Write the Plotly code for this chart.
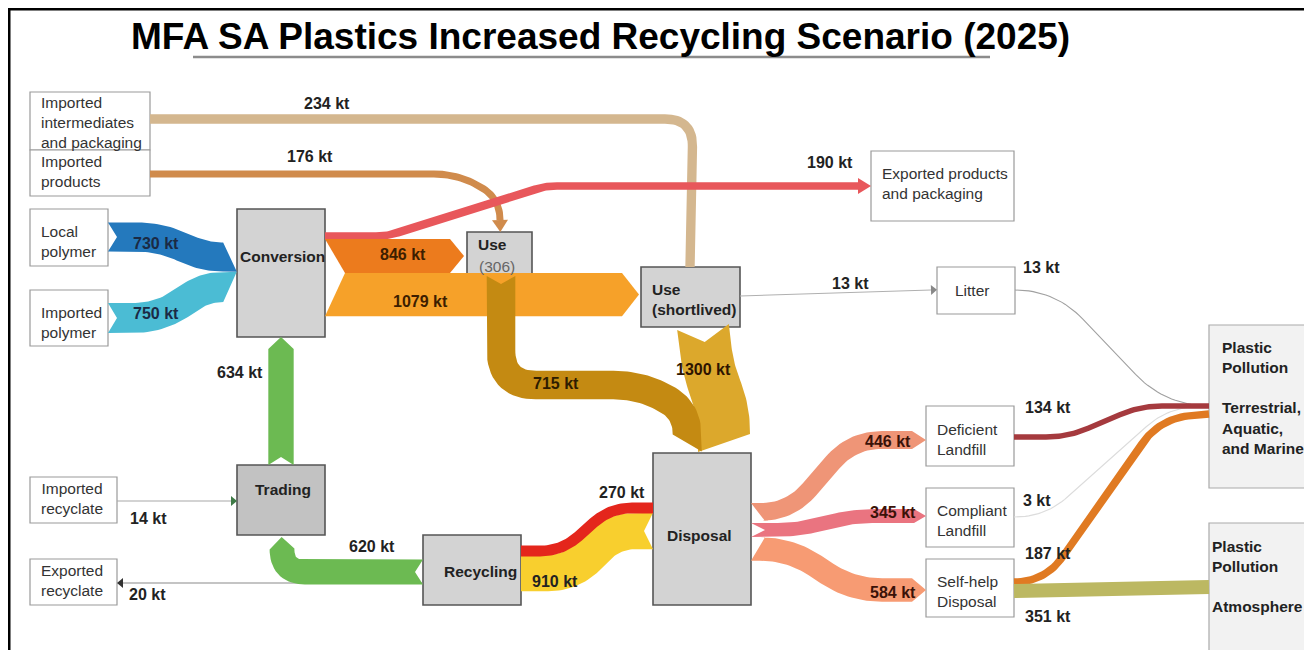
import numpy as np
import plotly.graph_objects as go

# ---------------- data ----------------
title_text = "MFA SA Plastics Increased Recycling Scenario (2025)"
unit = "kt"

node_ids = ["imp_int", "imp_prod", "local_poly", "imp_poly", "conversion", "use306", "use_sl",
            "exp_prod", "litter", "trading", "imp_recy", "exp_recy", "recycling", "disposal",
            "deficient", "compliant", "selfhelp", "pp_terr", "pp_atm"]
node_labels = ["Imported<br>intermediates<br>and packaging", "Imported<br>products", "Local<br>polymer",
               "Imported<br>polymer", "Conversion", "Use", "Use<br>(shortlived)",
               "Exported products<br>and packaging", "Litter", "Trading", "Imported<br>recyclate",
               "Exported<br>recyclate", "Recycling", "Disposal", "Deficient<br>Landfill",
               "Compliant<br>Landfill", "Self-help<br>Disposal",
               "Plastic<br>Pollution<br><br>Terrestrial,<br>Aquatic,<br>and Marine",
               "Plastic<br>Pollution<br><br>Atmosphere"]
use_sub_label = "(306)"

flow_source = ["imp_int", "imp_prod", "conversion", "local_poly", "imp_poly", "conversion", "conversion",
               "use306", "use_sl", "trading", "imp_recy", "recycling", "trading", "recycling", "disposal",
               "disposal", "disposal", "disposal", "use_sl", "litter", "deficient", "compliant",
               "selfhelp", "selfhelp"]
flow_target = ["use_sl", "use306", "exp_prod", "conversion", "conversion", "use306", "use_sl",
               "disposal", "disposal", "conversion", "trading", "trading", "exp_recy", "disposal",
               "recycling", "deficient", "compliant", "selfhelp", "litter", "pp_terr", "pp_terr",
               "pp_terr", "pp_terr", "pp_atm"]
flow_kt = [234, 176, 190, 730, 750, 846, 1079, 715, 1300, 634, 14, 620, 20, 270, 910,
           446, 345, 584, 13, 13, 134, 3, 187, 351]

# ---------------- layout (positions / styles) ----------------
W_SCALE = 0.04       # px of ribbon width per kt
THIN_LIMIT = 50      # flows below this drawn as hairlines
FONT = "Liberation Sans, Arial, sans-serif"
PAGE_OFFSET = 8      # the html body margin

node_box = {
    "imp_int": (30, 92, 150, 150), "imp_prod": (30, 150, 150, 196),
    "local_poly": (30, 209, 108, 266), "imp_poly": (30, 290, 108, 346),
    "conversion": (237, 209, 325, 337), "use306": (467, 232, 532, 276),
    "use_sl": (641, 267, 740, 327), "exp_prod": (871, 151, 1014, 221),
    "litter": (937, 267, 1015, 314), "trading": (237, 465, 325, 535),
    "imp_recy": (30, 477, 117, 523), "exp_recy": (30, 559, 117, 605),
    "recycling": (423, 535, 521, 605), "disposal": (653, 453, 751, 605),
    "deficient": (926, 406, 1014, 466), "compliant": (926, 488, 1014, 547),
    "selfhelp": (926, 559, 1014, 617), "pp_terr": (1209, 325, 1325, 488),
    "pp_atm": (1209, 523, 1325, 665),
}
node_kind = {k: "plain" for k in node_ids}
for k in ["conversion", "use306", "use_sl", "recycling", "disposal"]:
    node_kind[k] = "process"
node_kind["trading"] = "trading"
node_kind["pp_terr"] = "sink"
node_kind["pp_atm"] = "sink"
kind_style = {
    "plain": dict(fill="#ffffff", line="#9a9a9a", lw=1.2),
    "process": dict(fill="#d3d3d3", line="#555555", lw=1.6),
    "trading": dict(fill="#c2c2c2", line="#555555", lw=1.6),
    "sink": dict(fill="#f2f2f2", line="#aaaaaa", lw=1.2),
}
# text position: x, y, xanchor, yanchor, bold
node_text = {
    "imp_int": (39, 92, "left", "top", False), "imp_prod": (39, 151, "left", "top", False),
    "local_poly": (39, 221, "left", "top", False), "imp_poly": (39, 302, "left", "top", False),
    "conversion": (282, 256, "center", "middle", True), "use306": (476, 244, "left", "middle", True),
    "use_sl": (650, 279, "left", "top", True), "exp_prod": (880, 163, "left", "top", False),
    "litter": (972, 290, "center", "middle", False), "trading": (283, 489, "center", "middle", True),
    "imp_recy": (72, 478, "center", "top", False), "exp_recy": (72, 560, "center", "top", False),
    "recycling": (480, 571, "center", "middle", True), "disposal": (699, 535, "center", "middle", True),
    "deficient": (935, 419, "left", "top", False), "compliant": (935, 500, "left", "top", False),
    "selfhelp": (935, 571, "left", "top", False), "pp_terr": (1220, 337, "left", "top", True),
    "pp_atm": (1210, 536, "left", "top", True),
}

# geometry of each flow (same order as the data lists)
flow_geom = [
    dict(route=[(150, 119), (693, 119), (690, 267)], r=28, color="#d4b78f", lab=(327, 103)),
    dict(route=[(150, 174), (458, 174), (500, 198), (500, 220)], r=26, color="#d08b4c",
         tri=(12, 8), lab=(310, 156)),
    dict(route=[(325, 236), (388, 236), (545, 186), (858, 186)], r=12, color="#e8575b",
         tri=(13, 8), lab=(830, 162)),
    dict(route=[(108, 237), (160, 237), (205, 257), (223, 257)], r=30, color="#2479bd",
         notch=9, head=14, ha=1, lab=(156, 243), lc="#1b2a44"),
    dict(route=[(108, 318), (160, 318), (205, 287), (223, 287)], r=30, color="#4bbcd4",
         notch=9, head=14, ha=-1, lab=(156, 313), lc="#1b2a44"),
    dict(route=[(325, 256), (450, 256)], r=10, color="#ec7b1d", notch=20, na=1, head=14,
         lab=(403, 254), lc="#3d1e00"),
    dict(route=[(325, 294.6), (622, 294.6)], r=10, color="#f6a129", notch=20, na=-1, head=17,
         lab=(420, 301), lc="#3d1e00"),
    dict(route=[(501, 276), (501, 385), (640, 385), (687, 410), (687, 434)], r=35, color="#c48a12",
         notch=8, head=18, ha=-1, lab=(556, 383), lc="#2e1c00"),
    dict(route=[(703, 327), (708, 370), (724, 410), (724, 434)], r=30, color="#dca82c",
         notch=15, head=18, ha=1, lab=(703, 369), lc="#2e1400"),
    dict(route=[(281, 465), (281, 349)], r=10, color="#6cba52", notch=8, head=12, lab=(240, 372)),
    dict(route=[(117, 501), (231, 501)], r=10, color="#a8a8a8", tri=(6, 5), tric="#3e7a46",
         lab=(148, 518)),
    dict(route=[(423, 572), (282, 572), (282, 549)], r=30, color="#6cba52", notch=8, head=12,
         lab=(372, 546)),
    dict(route=[(423, 583), (123, 583)], r=10, color="#8a8a8a", tri=(6, 5), tric="#333333",
         lab=(147, 594)),
    dict(route=[(521, 551), (562, 551), (610, 508), (653, 508)], r=22, color="#e4261c",
         lab=(622, 492)),
    dict(route=[(653, 531), (612, 531), (572, 573), (521, 573)], r=24, color="#f8cf2e",
         notch=9, lab=(555, 581)),
    dict(route=[(751, 512), (790, 512), (852, 440), (912, 440)], r=30, color="#ef9577",
         notch=14, na=1, head=14, lab=(888, 441), lc="#3a1208"),
    dict(route=[(751, 530), (800, 530), (850, 516), (914, 516)], r=25, color="#ea7480",
         notch=14, head=12, lab=(893, 512), lc="#3a1208"),
    dict(route=[(751, 549), (790, 549), (852, 590), (912, 590)], r=30, color="#f79b73",
         notch=14, na=-1, head=14, lab=(893, 592), lc="#3a1208"),
    dict(route=[(740, 296), (931, 290)], r=10, color="#b0b0b0", tri=(6, 5), tric="#888888",
         lab=(850, 283)),
    dict(route=[(1015, 290), (1055, 290), (1160, 400), (1195, 405)], r=40, color="#a0a0a0",
         lab=(1041, 267)),
    dict(route=[(1014, 437), (1068, 437), (1140, 406), (1209, 406)], r=22, color="#a53a3e",
         lab=(1048, 407)),
    dict(route=[(1014, 517), (1045, 517), (1165, 410), (1190, 407)], r=30, color="#dcdcdc",
         lab=(1037, 500)),
    dict(route=[(1014, 582), (1045, 582), (1160, 418), (1209, 414)], r=32, color="#e07a22",
         lab=(1048, 553)),
    dict(route=[(1014, 591), (1209, 587)], r=10, color="#bcb862", lab=(1048, 616)),
]
# draw order (indices into the flow lists)
draw_order = [0, 1, 2, 3, 4, 6, 5, 8, 7, 12, 10, 9, 11, 14, 13, 15, 16, 17, 18, 19, 21, 20, 22, 23]


# ---------------- geometry helpers ----------------
def rounded(pts, r, n=18):
    P = [np.asarray(p, float) for p in pts]
    out = [P[0]]
    last = len(P) - 1
    for i in range(1, last):
        p0, p1, p2 = P[i - 1], P[i], P[i + 1]
        d1 = p1 - p0
        l1 = np.hypot(*d1)
        d2 = p2 - p1
        l2 = np.hypot(*d2)
        lim1 = l1 if i == 1 else l1 / 2
        lim2 = l2 if i + 1 == last else l2 / 2
        rr = min(r, lim1, lim2)
        a = p1 - d1 / l1 * rr
        b = p1 + d2 / l2 * rr
        for t in np.linspace(0, 1, n):
            out.append((1 - t) ** 2 * a + 2 * (1 - t) * t * p1 + t ** 2 * b)
    out.append(P[-1])
    res = [out[0]]
    for p in out[1:]:
        if np.hypot(*(p - res[-1])) > 1e-6:
            res.append(p)
    return np.array(res)


def tangents(P):
    d = np.diff(P, axis=0)
    d = d / np.hypot(d[:, 0], d[:, 1])[:, None]
    T = np.zeros_like(P)
    T[0] = d[0]
    T[-1] = d[-1]
    if len(P) > 2:
        m = d[:-1] + d[1:]
        T[1:-1] = m / np.hypot(m[:, 0], m[:, 1])[:, None]
    return T


def ribbon(P, w, head=0, ha=0, notch=0, na=0):
    T = tangents(P)
    N = np.stack([-T[:, 1], T[:, 0]], axis=1)
    L = P + N * w / 2
    R = P - N * w / 2
    poly = []
    if notch > 0:
        v = P[0] + T[0] * notch + N[0] * na * w / 2
        if na > -1:
            poly.append(R[0])
        poly.append(v)
        if na < 1:
            poly.append(L[0])
    else:
        poly += [R[0], L[0]]
    poly += list(L[1:])
    if head > 0:
        poly.append(P[-1] + T[-1] * head + N[-1] * ha * w / 2)
    poly += list(R[::-1][:-1])
    poly.append(poly[0])
    a = np.array(poly)
    return a[:, 0], a[:, 1]


def triangle(P, length, half):
    T = tangents(P)[-1]
    N = np.array([-T[1], T[0]])
    e = P[-1]
    tip = e + T * length
    pts = np.array([e + N * half, tip, e - N * half, e + N * half])
    return pts[:, 0], pts[:, 1]


# ---------------- figure ----------------
fig = go.Figure()
shapes = []
annotations = []

# frame and title underline
shapes.append(dict(type="line", x0=8, y0=9, x1=1330, y1=9, line=dict(color="#000", width=3), layer="above"))
shapes.append(dict(type="line", x0=9, y0=9, x1=9, y1=670, line=dict(color="#000", width=3), layer="above"))
shapes.append(dict(type="line", x0=193, y0=57, x1=990, y1=57, line=dict(color="#8c8c8c", width=2.5)))

# boxes
for nid in node_ids:
    x0, y0, x1, y1 = node_box[nid]
    st = kind_style[node_kind[nid]]
    shapes.append(dict(type="rect", x0=x0, y0=y0, x1=x1, y1=y1, fillcolor=st["fill"],
                       line=dict(color=st["line"], width=st["lw"]), layer="below"))

# flows
for i in draw_order:
    g = flow_geom[i]
    v = flow_kt[i]
    P = rounded(g["route"], g.get("r", 20))
    if v < THIN_LIMIT:
        fig.add_trace(go.Scatter(x=P[:, 0], y=P[:, 1], mode="lines",
                                 line=dict(color=g["color"], width=1.1),
                                 hoverinfo="skip", showlegend=False))
    else:
        w = v * W_SCALE
        xs, ys = ribbon(P, w, head=g.get("head", 0), ha=g.get("ha", 0),
                        notch=g.get("notch", 0), na=g.get("na", 0))
        fig.add_trace(go.Scatter(x=xs, y=ys, mode="lines", fill="toself",
                                 fillcolor=g["color"], line=dict(width=0),
                                 hoverinfo="skip", showlegend=False))
    if "tri" in g:
        tl, th = g["tri"]
        xs, ys = triangle(P, tl, th)
        fig.add_trace(go.Scatter(x=xs, y=ys, mode="lines", fill="toself",
                                 fillcolor=g.get("tric", g["color"]), line=dict(width=0),
                                 hoverinfo="skip", showlegend=False))

# flow labels
for i, v in enumerate(flow_kt):
    g = flow_geom[i]
    x, y = g["lab"]
    annotations.append(dict(x=x, y=y, text=f"<b>{v} {unit}</b>", showarrow=False,
                            xanchor="center", yanchor="middle",
                            font=dict(family=FONT, size=16, color=g.get("lc", "#222222"))))

# node labels
for nid, lab in zip(node_ids, node_labels):
    x, y, xa, ya, bold = node_text[nid]
    txt = f"<b>{lab}</b>" if bold else lab
    annotations.append(dict(x=x, y=y, text=txt, showarrow=False, xanchor=xa, yanchor=ya,
                            align="left" if xa == "left" else "center",
                            font=dict(family=FONT, size=15.5, color="#222222" if bold else "#333333")))
annotations.append(dict(x=497, y=266, text=use_sub_label, showarrow=False, xanchor="center",
                        yanchor="middle", font=dict(family=FONT, size=15.5, color="#666666")))

# title
annotations.append(dict(x=600, y=36, text=f"<b>{title_text}</b>", showarrow=False,
                        xanchor="center", yanchor="middle",
                        font=dict(family=FONT, size=37, color="#000000")))

fig.update_layout(
    width=1312, height=650,
    margin=dict(l=0, r=0, t=0, b=0),
    paper_bgcolor="white", plot_bgcolor="white",
    xaxis=dict(range=[PAGE_OFFSET, 1312 + PAGE_OFFSET], visible=False, fixedrange=True),
    yaxis=dict(range=[650 + PAGE_OFFSET, PAGE_OFFSET], visible=False, fixedrange=True),
    shapes=shapes, annotations=annotations, showlegend=False,
)

fig.write_html("out.html")
